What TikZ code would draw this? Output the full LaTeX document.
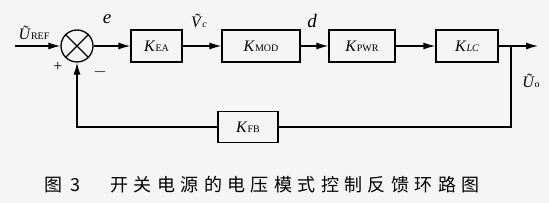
\documentclass[tikz,border=0pt]{standalone}
\usepackage{fontspec}
\setmainfont{Liberation Serif}
\newfontfamily\cjk{Noto Sans CJK SC}
\newfontfamily\cjkwide[LetterSpace=30]{Noto Sans CJK SC}
\usetikzlibrary{positioning}
\usetikzlibrary{arrows.meta}
\newcommand{\gain}[1]{\textit{K}{\fontsize{10}{10}\selectfont #1}}
\newcommand{\sgn}[2]{\textit{#1}{\fontsize{10}{10}\selectfont #2}}

\begin{document}
\begin{tikzpicture}[x=1pt,y=1pt,
  blk/.style={draw=black,line width=1.3pt,minimum height=32pt,inner sep=0pt,font=\fontsize{16}{16}\selectfont},
  sig/.style={line width=1.3pt,-{Latex[length=12pt,width=7pt]}},
  wire/.style={line width=1.3pt},
  lbl/.style={font=\fontsize{16}{16}\selectfont,text=black,inner sep=1pt}]
\useasboundingbox (0,0) rectangle (549,203);
\fill[black!4] (0,0) rectangle (549,203);

\node[circle,draw,line width=1.3pt,minimum size=32pt,inner sep=0pt] (sum) at (77,157) {};
\draw[wire] (sum.north west) -- (sum.south east) (sum.north east) -- (sum.south west);
\node[blk,minimum width=51pt] (kea) at (156.5,157) {\gain{EA}};
\node[blk,minimum width=78pt] (kmod) at (261,157) {\gain{MOD}};
\node[blk,minimum width=66pt] (kpwr) at (362,157) {\gain{PWR}};
\node[blk,minimum width=62pt] (klc) at (467,157) {\textit{K}{\fontsize{10}{10}\selectfont\itshape LC}};
\node[blk,minimum width=60pt,minimum height=31pt] (kfb) at (248,76) {\gain{FB}};
\coordinate (in) at (15,157);
\coordinate (br) at (511,157);
\coordinate (out) at (538,157);

\draw[sig] (in) -- (sum);
\draw[sig] (sum) -- (kea);
\draw[sig] (kea) -- (kmod);
\draw[sig] (kmod) -- (kpwr);
\draw[sig] (kpwr) -- (klc);
\draw[sig] (klc) -- (out);
\draw[wire] (br) |- (kfb);
\draw[sig] (kfb) -| (sum);

% signal names
\node[lbl] (uref) at (34,170) {\sgn{Ũ}{REF}};
\node[lbl,font=\fontsize{19}{19}\selectfont\itshape] (e) at (107,184) {e};
\node[lbl] (vc) at (199,182) {\sgn{Ṽ}{\itshape c}};
\node[lbl,font=\fontsize{19}{19}\selectfont\itshape] (d) at (312,182) {d};
\node[lbl] (uo) at (531,122) {\sgn{Ũ}{o}};
\node[lbl] (plus) at (58,136) {+};
\node[lbl] (minus) at (100,131) {$-$};

\node[font=\fontsize{18}{18}\selectfont] (cap) at (262,18) {{\cjk 图\hspace{8pt}3}\hspace{30pt}{\cjkwide 开关电源的电压模式控制反馈环路图}};
\end{tikzpicture}
\end{document}
